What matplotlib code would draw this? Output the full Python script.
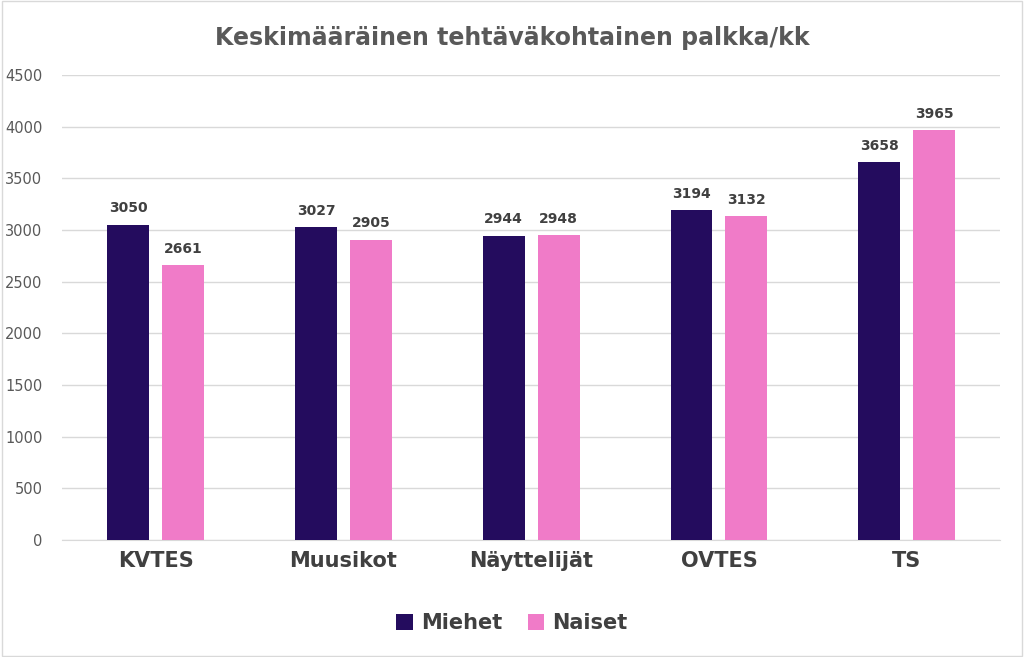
import matplotlib
matplotlib.use("Agg")
import matplotlib.pyplot as plt
import numpy as np
from matplotlib.patches import Rectangle

categories = ["KVTES", "Muusikot", "Näyttelijät", "OVTES", "TS"]
miehet = [3050, 3027, 2944, 3194, 3658]
naiset = [2661, 2905, 2948, 3132, 3965]
yticks = [0, 500, 1000, 1500, 2000, 2500, 3000, 3500, 4000, 4500]

c_m = "#240C5E"
c_n = "#F07BC8"
gray = "#595959"

fig = plt.figure(figsize=(10.24, 6.57), dpi=100)
fig.patches.append(Rectangle((0.002, 0.002), 0.996, 0.996, transform=fig.transFigure,
                             fill=False, edgecolor="#D9D9D9", linewidth=1))
ax = fig.add_axes([0.0605, 0.178, 0.9165, 0.708])
x = np.arange(len(categories))
w = 0.223
off = 0.146
b1 = ax.bar(x - off, miehet, w, color=c_m, label="Miehet", zorder=3)
b2 = ax.bar(x + off, naiset, w, color=c_n, label="Naiset", zorder=3)
for bars, vals in ((b1, miehet), (b2, naiset)):
    for b, v in zip(bars, vals):
        ax.text(b.get_x() + b.get_width() / 2, v + 90, str(v), ha="center", va="bottom",
                fontsize=10, fontweight="bold", color="#404040")
ax.set_xlim(-0.5, 4.5)
ax.set_ylim(0, 4500)
ax.set_yticks(yticks)
ax.set_yticklabels([str(t) for t in yticks], fontsize=10.5, color=gray)
ax.set_xticks(x)
ax.set_xticklabels(categories, fontsize=15, fontweight="bold", color="#404040")
ax.tick_params(axis="both", length=0, pad=8)
ax.tick_params(axis="y", pad=14)
ax.grid(axis="y", color="#D9D9D9", linewidth=1, zorder=0)
for s in ["top", "right", "left"]:
    ax.spines[s].set_visible(False)
ax.spines["bottom"].set_color("#D9D9D9")
fig.text(0.5, 0.942, "Keskimääräinen tehtäväkohtainen palkka/kk", ha="center", va="center",
         fontsize=17, fontweight="bold", color=gray)
leg = fig.legend(handles=[b1, b2], loc="center", bbox_to_anchor=(0.5, 0.052), ncol=2,
                 frameon=False, fontsize=15, handlelength=0.8, handleheight=0.8,
                 columnspacing=1.2, handletextpad=0.4)
for t in leg.get_texts():
    t.set_fontweight("bold")
    t.set_color("#404040")
fig.savefig("out.png", dpi=100)
